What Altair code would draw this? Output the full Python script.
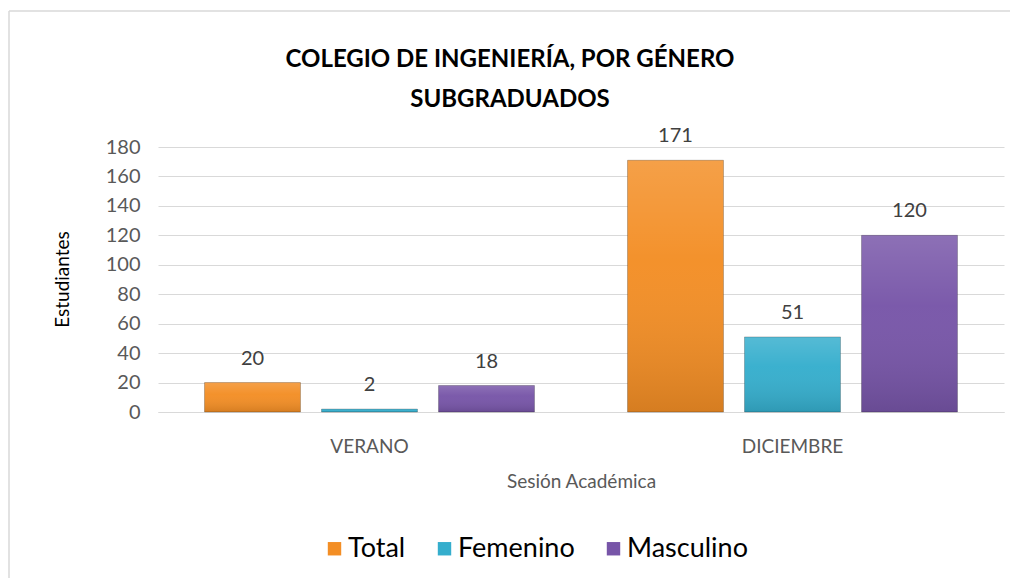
import altair as alt
import pandas as pd

FONT = "Lato"

sesiones = ["VERANO", "DICIEMBRE"]
series = ["Total", "Femenino", "Masculino"]
total = [20, 171]
femenino = [2, 51]
masculino = [18, 120]
colores = ["#F38E25", "#35AECD", "#7755A8"]
y_ticks = [0, 20, 40, 60, 80, 100, 120, 140, 160, 180]
titulo = ["COLEGIO DE INGENIERÍA, POR GÉNERO", "SUBGRADUADOS"]

rows = []
for serie, vals in zip(series, [total, femenino, masculino]):
    for s, v in zip(sesiones, vals):
        rows.append({"sesion": s, "serie": serie, "valor": v})
df = pd.DataFrame(rows)

x_enc = alt.X(
    "sesion:N", sort=sesiones,
    scale=alt.Scale(paddingInner=0.22, paddingOuter=0.11),
    axis=alt.Axis(title="Sesión Académica", labelAngle=0, ticks=False, domain=True,
                  domainColor="#d9d9d9", labelPadding=25, titlePadding=16,
                  labelColor="#595959", titleColor="#595959", labelFontSize=19,
                  titleFontSize=19, titleFontWeight="normal", labelFont=FONT, titleFont=FONT,
                  grid=False),
)
xo_enc = alt.XOffset("serie:N", sort=series,
                     scale=alt.Scale(paddingInner=0.18, paddingOuter=0))
y_enc = alt.Y(
    "valor:Q",
    scale=alt.Scale(domain=[0, 180], nice=False),
    axis=alt.Axis(title="Estudiantes", values=y_ticks, ticks=False, domain=False,
                  grid=True, gridColor="#d9d9d9", gridWidth=1,
                  labelPadding=18, labelColor="#595959", labelFontSize=20, labelFont=FONT,
                  titleColor="#000000", titleFontSize=19, titleFontWeight="normal",
                  titleFont=FONT, titleX=-96, titleY=132, titleBaseline="middle"),
)

base = alt.Chart(df)

bars = base.mark_bar().encode(
    x=x_enc, xOffset=xo_enc, y=y_enc,
    color=alt.Color("serie:N", sort=series,
                    scale=alt.Scale(domain=series, range=colores),
                    legend=alt.Legend(title=None, orient="none", legendX=163, legendY=388,
                                      direction="horizontal", symbolType="square",
                                      symbolSize=180, symbolStrokeWidth=0,
                                      labelFontSize=27, labelFont=FONT, labelColor="#000000",
                                      columnPadding=25, labelOffset=0)),
)

overlay = base.mark_bar(
    fill=alt.Gradient(
        gradient="linear",
        stops=[alt.GradientStop(color="rgba(255,255,255,0.16)", offset=0),
               alt.GradientStop(color="rgba(255,255,255,0.03)", offset=0.4),
               alt.GradientStop(color="rgba(0,0,0,0.12)", offset=1)],
        x1=0, x2=0, y1=0, y2=1,
    ),
    stroke="rgba(0,0,0,0.22)", strokeWidth=1,
).encode(x=x_enc, xOffset=xo_enc, y=y_enc)

labels = base.mark_text(baseline="middle", dy=-24, fontSize=20, color="#404040",
                        font=FONT).encode(
    x=x_enc, xOffset=xo_enc, y=y_enc, text="valor:Q")

one = pd.DataFrame({"k": [0]})
title1 = alt.Chart(one).mark_text(text=titulo[0], font=FONT, fontSize=24,
                                  fontWeight="bold", color="#000000",
                                  baseline="middle", align="center").encode(
    x=alt.value(352), y=alt.value(-87))
title2 = alt.Chart(one).mark_text(text=titulo[1], font=FONT, fontSize=24,
                                  fontWeight="bold", color="#000000",
                                  baseline="middle", align="center").encode(
    x=alt.value(352), y=alt.value(-47))
border_top = alt.Chart(one).mark_rule(color="#d9d9d9", strokeWidth=1.5).encode(
    x=alt.value(-149), x2=alt.value(2000), y=alt.value(-136))
border_left = alt.Chart(one).mark_rule(color="#d9d9d9", strokeWidth=1.5).encode(
    x=alt.value(-149), y=alt.value(-136), y2=alt.value(2000))

chart = alt.layer(border_top, border_left, bars, overlay, labels, title1, title2).properties(
    width=846, height=265,
    padding={"left": 150, "top": 139, "right": 6, "bottom": 166},
    autosize=alt.AutoSizeParams(type="none"),
).configure(background="white").configure_view(stroke="transparent", strokeWidth=0)

chart.save("out.html", embed_options={"renderer": "svg", "actions": False})
